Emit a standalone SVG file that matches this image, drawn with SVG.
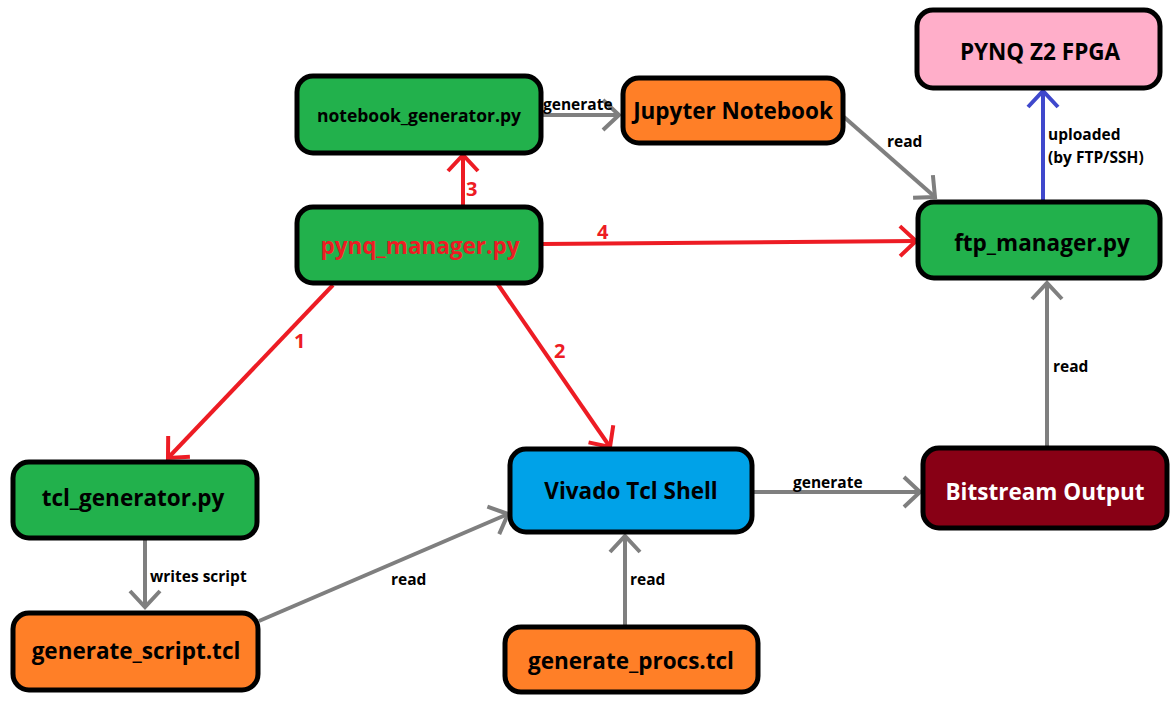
<svg xmlns="http://www.w3.org/2000/svg" width="1174" height="704" viewBox="0 0 1174 704">
<defs>
<style>
.n rect{stroke:#000;stroke-width:5}
.t{font-family:"Open Sans","Noto Sans",sans-serif;font-weight:bold;font-size:22.5px;text-anchor:middle;dominant-baseline:central;fill:#000}
.l{font-family:"Open Sans","Noto Sans",sans-serif;font-weight:bold;font-size:15.5px;fill:#000}
.rl{font-family:"Open Sans","Noto Sans",sans-serif;font-weight:bold;font-size:20px;fill:#ed1c24}
.g{stroke:#7f7f7f;stroke-width:4;fill:none}
.r{stroke:#ed1c24;stroke-width:4;fill:none}
.b{stroke:#3f48cc;stroke-width:4;fill:none}
</style>
<marker id="ag" markerUnits="userSpaceOnUse" viewBox="-20 -20 24 40" markerWidth="24" markerHeight="40" refX="0" refY="0" orient="auto"><path d="M-16,-15 L0,0 L-16,15" fill="none" stroke="#7f7f7f" stroke-width="4"/></marker>
<marker id="ar" markerUnits="userSpaceOnUse" viewBox="-20 -20 24 40" markerWidth="24" markerHeight="40" refX="0" refY="0" orient="auto"><path d="M-16,-15 L0,0 L-16,15" fill="none" stroke="#ed1c24" stroke-width="4"/></marker>
<marker id="ab" markerUnits="userSpaceOnUse" viewBox="-20 -20 24 40" markerWidth="24" markerHeight="40" refX="0" refY="0" orient="auto"><path d="M-16,-15 L0,0 L-16,15" fill="none" stroke="#3f48cc" stroke-width="4"/></marker>
</defs>
<rect width="1174" height="704" fill="#fff"/>
<g id="connectors">
<line class="g" x1="543" y1="115" x2="619" y2="115" marker-end="url(#ag)"/>
<text class="l" x="543" y="110">generate</text>
<line class="r" x1="463" y1="206" x2="463" y2="155" marker-end="url(#ar)"/>
<text class="rl" x="466" y="196">3</text>
<line class="g" x1="844" y1="117" x2="935" y2="197" marker-end="url(#ag)"/>
<text class="l" x="887" y="147">read</text>
<line class="r" x1="542" y1="244" x2="916" y2="241" marker-end="url(#ar)"/>
<text class="rl" x="597" y="239">4</text>
<line class="b" x1="1043" y1="201" x2="1043" y2="91" marker-end="url(#ab)"/>
<text class="l" x="1048" y="140">uploaded</text>
<text class="l" x="1048" y="163">(by FTP/SSH)</text>
<line class="g" x1="1047" y1="447" x2="1047" y2="283" marker-end="url(#ag)"/>
<text class="l" x="1053" y="372">read</text>
<line class="r" x1="333" y1="285" x2="168" y2="458" marker-end="url(#ar)"/>
<text class="rl" x="294" y="348">1</text>
<line class="r" x1="497" y1="283" x2="610" y2="447" marker-end="url(#ar)"/>
<text class="rl" x="554" y="358">2</text>
<line class="g" x1="754" y1="492" x2="920" y2="492" marker-end="url(#ag)"/>
<text class="l" x="793" y="488">generate</text>
<line class="g" x1="145" y1="539" x2="145" y2="607" marker-end="url(#ag)"/>
<text class="l" x="150" y="582">writes script</text>
<line class="g" x1="259" y1="621" x2="508" y2="514" marker-end="url(#ag)"/>
<text class="l" x="391" y="585">read</text>
<line class="g" x1="625" y1="627" x2="625" y2="536" marker-end="url(#ag)"/>
<text class="l" x="630" y="585">read</text>
</g>
<g id="notebook_generator" class="n"><rect x="297" y="76" width="244" height="77" rx="16" fill="#22b14c"/><text class="t" x="419" y="115" style="font-size:17.5px">notebook_generator.py</text></g>
<g id="jupyter" class="n"><rect x="623" y="78" width="220" height="65" rx="16" fill="#ff7f27"/><text class="t" x="733" y="110">Jupyter Notebook</text></g>
<g id="pynq_z2" class="n"><rect x="917" y="10" width="243" height="78" rx="16" fill="#ffaec9"/><text class="t" x="1040" y="51">PYNQ Z2 FPGA</text></g>
<g id="ftp_manager" class="n"><rect x="918" y="202" width="242" height="76" rx="16" fill="#22b14c"/><text class="t" x="1042" y="242">ftp_manager.py</text></g>
<g id="pynq_manager" class="n"><rect x="297" y="207" width="244" height="76" rx="16" fill="#22b14c"/><text class="t" x="420" y="245" style="fill:#ed1c24">pynq_manager.py</text></g>
<g id="tcl_generator" class="n"><rect x="13" y="462" width="244" height="76" rx="16" fill="#22b14c"/><text class="t" x="133" y="497">tcl_generator.py</text></g>
<g id="generate_script" class="n"><rect x="13" y="613" width="245" height="77" rx="16" fill="#ff7f27"/><text class="t" x="136" y="650">generate_script.tcl</text></g>
<g id="vivado" class="n"><rect x="510" y="449" width="242" height="83" rx="16" fill="#00a2e8"/><text class="t" x="631" y="490">Vivado Tcl Shell</text></g>
<g id="generate_procs" class="n"><rect x="505" y="627" width="253" height="65" rx="16" fill="#ff7f27"/><text class="t" x="631" y="660">generate_procs.tcl</text></g>
<g id="bitstream" class="n"><rect x="923" y="448" width="244" height="80" rx="16" fill="#880015"/><text class="t" x="1045" y="491" style="fill:#fff">Bitstream Output</text></g>
</svg>
